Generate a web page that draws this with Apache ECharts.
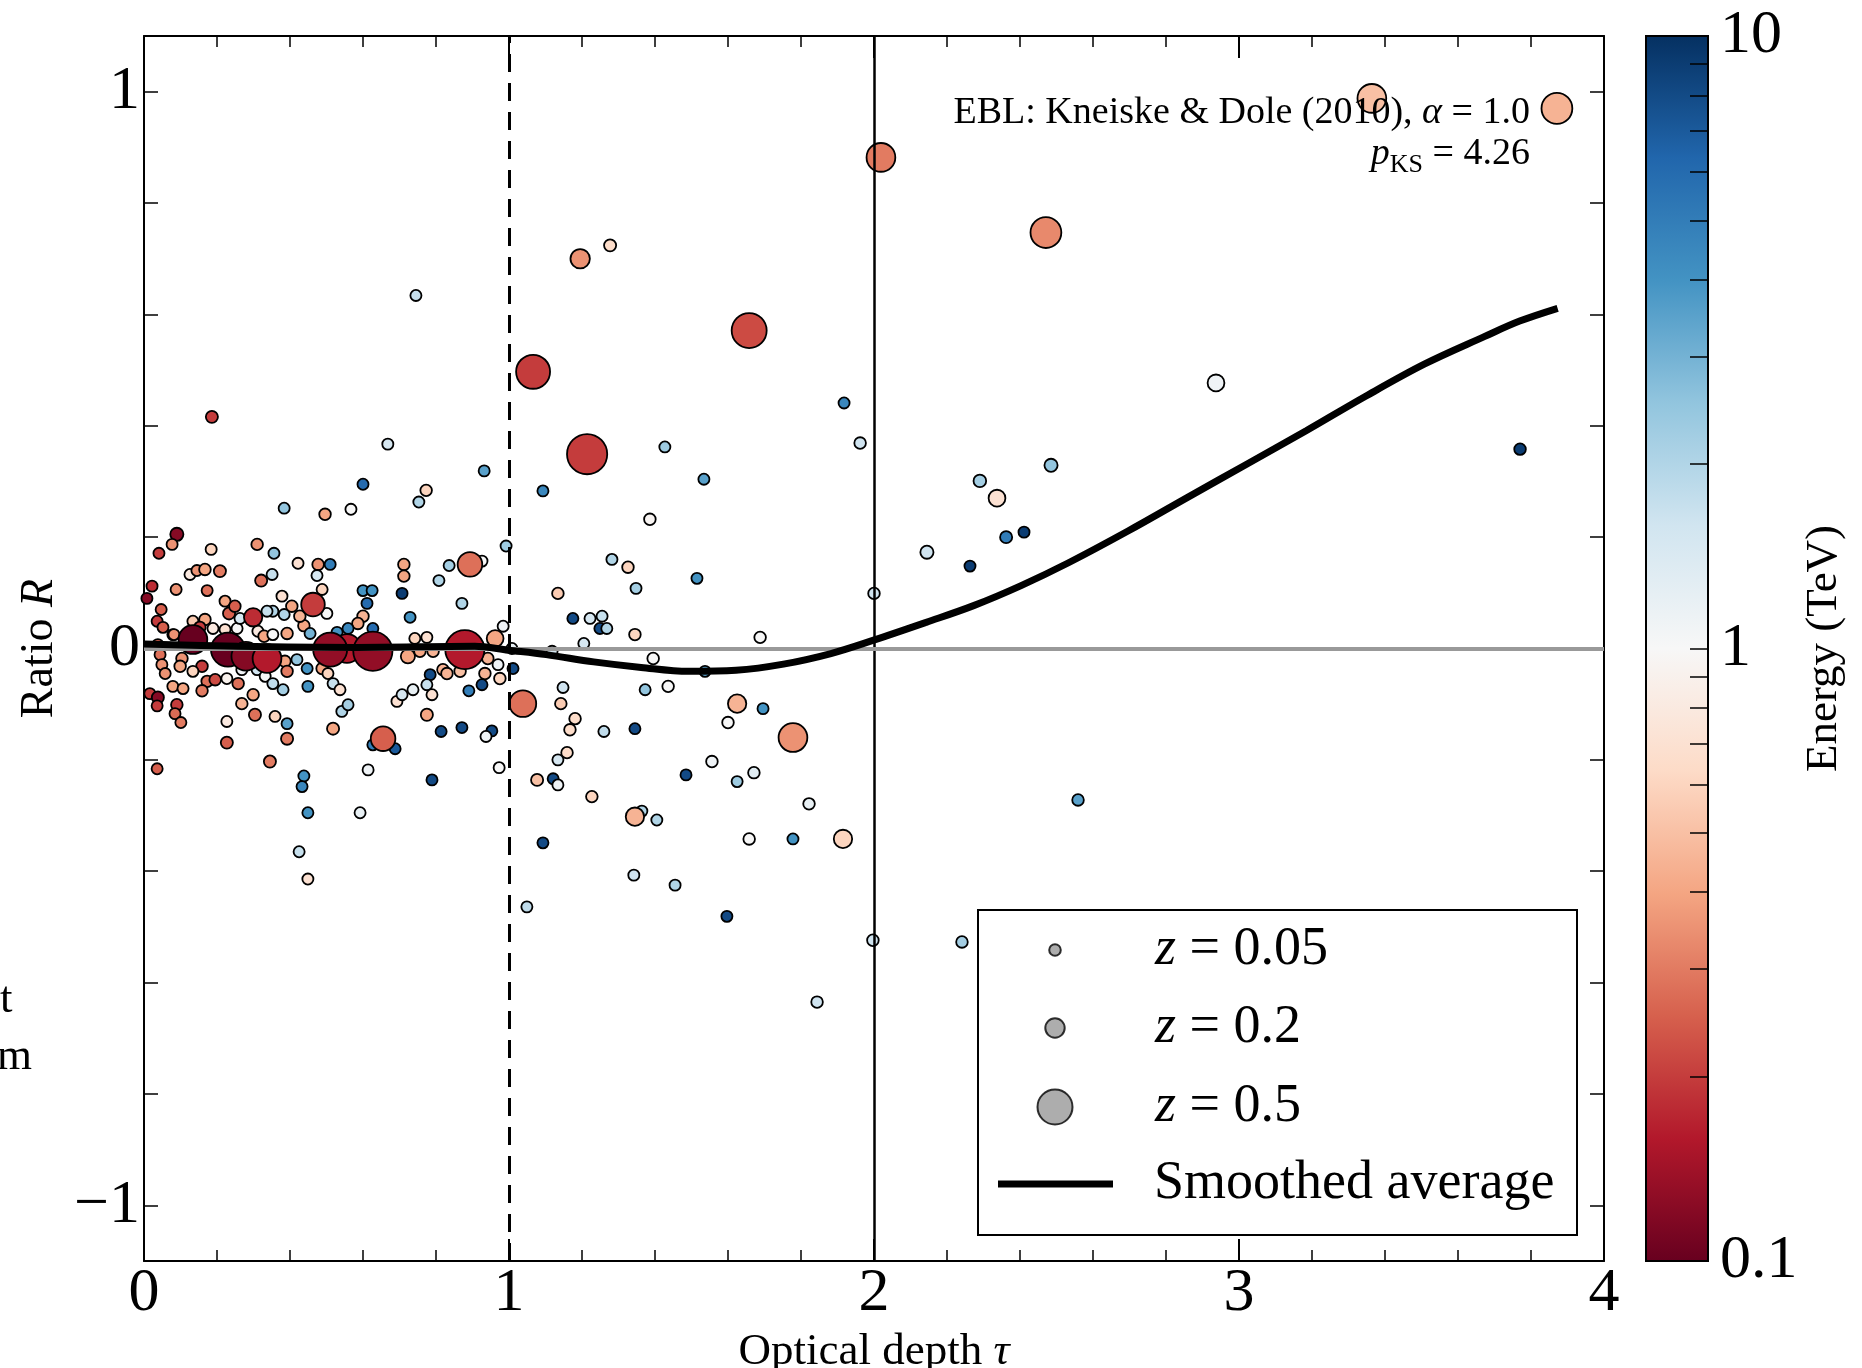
<!DOCTYPE html>
<html>
<head>
<meta charset="utf-8">
<script src="https://cdn.jsdelivr.net/npm/echarts@6/dist/echarts.min.js"></script>
<style>
  html, body { margin: 0; padding: 0; background: #fff; }
  #chart { width: 1862px; height: 1368px; }
</style>
</head>
<body>
<div id="chart"></div>
<script>
// optical depth tau of each measurement
const tau = [
  0.384, 0.496, 0.567, 0.090, 0.077, 0.041, 0.184, 0.310, 0.356, 0.126,
  0.145, 0.167, 0.208, 0.022, 0.008, 0.088, 0.173, 0.321, 0.351, 0.422,
  0.477, 0.510, 0.474, 0.488, 0.712, 0.712, 0.600, 0.625, 0.611, 0.707,
  0.047, 0.036, 0.052, 0.079, 0.222, 0.233, 0.249, 0.378, 0.405, 0.501,
  0.729, 0.353, 0.337, 0.384, 0.438, 0.427, 0.600, 0.586, 0.134, 0.167,
  0.153, 0.189, 0.222, 0.255, 0.263, 0.312, 0.329, 0.353, 0.392, 0.455,
  0.529, 0.559, 0.627, 0.742, 0.082, 0.038, 0.044, 0.049, 0.058, 0.104,
  0.099, 0.159, 0.134, 0.173, 0.195, 0.227, 0.258, 0.268, 0.310, 0.332,
  0.353, 0.381, 0.386, 0.392, 0.419, 0.447, 0.449, 0.488, 0.504, 0.518,
  0.537, 0.299, 0.268, 0.304, 0.359, 0.392, 0.392, 0.518, 0.542, 0.559,
  0.079, 0.107, 0.159, 0.016, 0.038, 0.036, 0.090, 0.085, 0.101, 0.227,
  0.227, 0.345, 0.036, 0.627, 0.688, 0.693, 0.707, 0.737, 0.723, 0.614,
  0.438, 0.433, 0.449, 0.592, 0.425, 0.449, 0.789, 1.049, 0.186, 0.668,
  0.600, 0.932, 0.773, 0.753, 0.745, 0.992, 0.926, 0.836, 0.808, 0.871,
  0.984, 0.775, 0.962, 0.756, 0.792, 0.942, 0.970, 1.008, 1.011, 0.819,
  0.830, 0.866, 0.784, 0.934, 0.975, 0.926, 0.775, 0.789, 0.890, 1.148,
  1.142, 1.181, 1.167, 1.118, 1.134, 1.175, 1.222, 1.255, 1.249, 1.268,
  1.205, 1.282, 1.326, 1.348, 1.345, 1.395, 1.373, 1.436, 1.260, 1.345,
  0.775, 0.814, 0.871, 0.953, 0.937, 0.973, 1.077, 1.121, 1.134, 1.134,
  1.159, 1.227, 1.386, 1.427, 1.534, 1.093, 1.515, 1.537, 1.688, 1.625,
  1.696, 1.600, 1.556, 1.485, 1.671, 1.625, 1.364, 1.345, 1.405, 1.822,
  1.093, 1.658, 1.778, 1.915, 1.342, 1.455, 1.962, 2.000, 1.918, 1.597,
  1.997, 2.241, 1.844, 2.559, 1.277, 2.937, 3.770, 2.485, 2.290, 2.337,
  2.362, 2.411, 2.145, 2.263, 0.299, 0.463, 0.655, 0.893, 1.038, 1.778,
  1.195, 1.066, 1.214, 1.658, 2.019, 2.471, 3.364, 3.871, 0.134, 0.230,
  0.279, 0.337, 0.556, 0.510, 0.627, 0.879
];
// ratio R
const ratio = [
  0.252, 0.241, 0.250, 0.205, 0.187, 0.171, 0.178, 0.187, 0.171, 0.133,
  0.140, 0.142, 0.139, 0.112, 0.090, 0.106, 0.104, 0.122, 0.133, 0.153,
  0.151, 0.151, 0.131, 0.106, 0.151, 0.130, 0.104, 0.104, 0.081, 0.099,
  0.070, 0.049, 0.038, 0.025, 0.085, 0.063, 0.076, 0.094, 0.076, 0.063,
  0.056, 0.067, 0.067, 0.061, 0.041, 0.058, 0.058, 0.045, 0.049, 0.052,
  0.038, 0.036, 0.034, 0.036, 0.054, 0.031, 0.022, 0.025, 0.027, 0.027,
  0.029, 0.036, 0.036, 0.018, 0.025, 0.007, -0.011, -0.029, -0.045, -0.018,
  -0.032, -0.032, -0.041, -0.059, -0.056, -0.054, -0.063, -0.038, -0.038, -0.050,
  -0.063, -0.074, -0.023, -0.041, -0.020, -0.036, -0.068, -0.036, -0.045, -0.063,
  -0.074, -0.083, -0.099, -0.119, -0.122, -0.135, -0.162, -0.144, -0.113, -0.101,
  -0.068, -0.072, -0.076, -0.081, -0.088, -0.103, -0.101, -0.117, -0.133, -0.131,
  -0.169, -0.203, -0.216, -0.173, -0.180, -0.095, -0.083, -0.074, -0.014, -0.218,
  -0.229, -0.248, -0.295, -0.295, -0.365, -0.414, -0.236, -0.464, 0.416, 0.367,
  0.295, 0.319, 0.284, 0.263, 0.634, 0.184, 0.157, 0.149, 0.122, 0.081,
  0.040, 0.020, 0.018, -0.005, -0.005, -0.018, -0.029, 0.000, -0.036, -0.038,
  -0.045, -0.041, -0.047, -0.045, -0.054, -0.065, -0.065, -0.083, -0.076, -0.070,
  -0.099, -0.126, -0.146, -0.005, 0.099, 0.054, 0.054, 0.058, 0.036, 0.036,
  0.009, 0.160, 0.146, 0.108, 0.025, -0.018, -0.074, -0.068, -0.149, -0.144,
  -0.119, -0.149, -0.142, -0.148, -0.158, -0.214, -0.236, -0.234, -0.245, -0.200,
  -0.187, -0.266, 0.232, 0.362, 0.304, 0.283, 0.126, -0.041, 0.020, -0.099,
  -0.108, -0.133, -0.203, -0.227, -0.223, -0.239, -0.292, -0.302, -0.308, -0.279,
  -0.349, -0.342, -0.342, -0.342, -0.407, -0.425, 0.369, 0.099, 0.441, -0.481,
  -0.524, -0.527, -0.635, -0.272, 0.724, 0.477, 0.358, 0.329, 0.301, 0.270,
  0.200, 0.209, 0.173, 0.148, 0.056, 0.079, -0.162, 0.151, -0.099, -0.160,
  0.700, 0.497, 0.349, 0.571, 0.882, 0.747, 0.988, 0.970, 0.016, -0.002,
  -0.014, -0.018, 0.000, -0.002, -0.005, -0.002
];
// photon energy (TeV), drives the colour
const energyTeV = [
  2.5, 0.4, 1.0, 0.12, 0.35, 0.2, 0.6, 0.35, 2.5, 0.8,
  0.35, 0.4, 0.3, 0.18, 0.12, 0.35, 0.28, 0.28, 1.7, 0.7,
  0.35, 5, 1.5, 0.6, 0.4, 0.4, 4, 4, 6, 9,
  0.25, 0.2, 0.25, 0.2, 0.4, 0.25, 0.25, 0.7, 0.4, 1.0,
  4, 2, 1.7, 2, 0.4, 0.45, 0.45, 0.4, 0.55, 0.4,
  0.2, 0.8, 0.7, 1.0, 1.5, 0.8, 0.4, 1.0, 0.4, 3,
  4, 4.5, 6, 0.6, 0.35, 0.25, 0.28, 0.35, 0.35, 0.35,
  0.4, 0.2, 0.6, 0.28, 0.22, 0.9, 0.28, 1.1, 1.6, 1.0,
  1.8, 2.2, 0.4, 0.3, 2.5, 4, 4, 0.4, 0.6, 1.7,
  0.7, 0.4, 0.45, 0.28, 0.6, 3.5, 0.3, 0.4, 2, 2.2,
  0.4, 0.4, 0.3, 0.2, 0.12, 0.2, 0.2, 0.27, 0.3, 0.8,
  0.25, 0.3, 0.25, 5, 7, 0.7, 1.5, 1.2, 0.4, 1.1,
  4, 4.5, 4, 1.2, 1.7, 0.7, 8, 1.8, 0.2, 1.5,
  6, 3.5, 0.6, 2, 1.7, 2.3, 1.0, 2.2, 2, 2,
  1.1, 0.7, 0.4, 0.4, 0.45, 0.45, 1.1, 1.2, 8, 0.45,
  0.45, 0.5, 8, 0.45, 0.6, 8, 1.7, 0.7, 5, 1.6,
  0.55, 0.65, 0.65, 1.5, 0.55, 8, 1.5, 1.7, 8, 2,
  1.5, 2, 0.6, 2.2, 0.6, 1.0, 2.5, 1.0, 1.8, 8,
  0.4, 8, 8, 8, 1.1, 1.0, 0.5, 8, 1.1, 1.5,
  0.65, 0.6, 0.95, 2.3, 3.5, 4.5, 4, 3.5, 1.0, 0.45,
  4, 1.0, 1.1, 8, 1.3, 2.3, 2, 0.45, 2, 1.2,
  8, 1.0, 4, 0.6, 1.6, 2, 1.6, 1.6, 4.5, 8,
  1.6, 2.2, 1.6, 3.5, 0.65, 1.1, 9, 2.5, 2.2, 0.7,
  5, 9, 1.6, 9, 0.18, 0.2, 0.25, 0.28, 0.28, 0.35,
  0.35, 0.2, 0.2, 0.22, 0.3, 0.33, 0.5, 0.45, 0.1, 0.1,
  0.12, 0.16, 0.16, 0.13, 0.13, 0.16
];
// source redshift, drives the marker size
const redshift = [
  0.04, 0.05, 0.04, 0.08, 0.04, 0.04, 0.04, 0.05, 0.04, 0.04,
  0.04, 0.05, 0.06, 0.04, 0.04, 0.04, 0.04, 0.06, 0.04, 0.04,
  0.05, 0.04, 0.04, 0.04, 0.05, 0.05, 0.04, 0.04, 0.04, 0.04,
  0.04, 0.04, 0.04, 0.04, 0.04, 0.06, 0.05, 0.04, 0.05, 0.04,
  0.04, 0.04, 0.04, 0.04, 0.05, 0.05, 0.05, 0.05, 0.04, 0.05,
  0.05, 0.04, 0.04, 0.04, 0.04, 0.04, 0.05, 0.04, 0.05, 0.04,
  0.04, 0.04, 0.04, 0.04, 0.04, 0.04, 0.04, 0.04, 0.04, 0.05,
  0.05, 0.05, 0.04, 0.05, 0.05, 0.04, 0.05, 0.04, 0.04, 0.04,
  0.04, 0.04, 0.05, 0.05, 0.04, 0.04, 0.04, 0.05, 0.04, 0.04,
  0.04, 0.05, 0.05, 0.06, 0.04, 0.04, 0.06, 0.06, 0.04, 0.04,
  0.04, 0.04, 0.05, 0.04, 0.06, 0.04, 0.05, 0.04, 0.04, 0.04,
  0.06, 0.06, 0.04, 0.04, 0.04, 0.04, 0.04, 0.04, 0.10, 0.04,
  0.04, 0.04, 0.04, 0.04, 0.04, 0.04, 0.04, 0.04, 0.06, 0.04,
  0.04, 0.04, 0.05, 0.04, 0.04, 0.04, 0.04, 0.04, 0.04, 0.04,
  0.04, 0.04, 0.15, 0.05, 0.05, 0.05, 0.04, 0.04, 0.04, 0.05,
  0.05, 0.05, 0.04, 0.05, 0.05, 0.04, 0.04, 0.04, 0.04, 0.04,
  0.05, 0.05, 0.05, 0.04, 0.05, 0.04, 0.04, 0.04, 0.04, 0.04,
  0.04, 0.04, 0.05, 0.04, 0.05, 0.05, 0.04, 0.05, 0.04, 0.04,
  0.06, 0.04, 0.04, 0.04, 0.04, 0.04, 0.06, 0.04, 0.04, 0.04,
  0.05, 0.05, 0.05, 0.04, 0.04, 0.04, 0.04, 0.04, 0.05, 0.18,
  0.04, 0.05, 0.05, 0.04, 0.05, 0.04, 0.04, 0.18, 0.04, 0.05,
  0.04, 0.05, 0.04, 0.18, 0.04, 0.04, 0.05, 0.05, 0.04, 0.04,
  0.05, 0.05, 0.05, 0.05, 0.06, 0.15, 0.05, 0.08, 0.07, 0.15,
  0.06, 0.04, 0.08, 0.04, 0.18, 0.28, 0.30, 0.30, 0.34, 0.38,
  0.20, 0.48, 0.60, 0.50, 0.38, 0.42, 0.38, 0.42, 0.38, 0.48,
  0.38, 0.38, 0.38, 0.48, 0.58, 0.58
];

// smoothed average curve
const curveTau = [0, 0.257, 0.582, 0.906, 0.998, 1.102, 1.232, 1.362, 1.492, 1.622, 1.752, 1.882, 1.999,
  2.143, 2.273, 2.403, 2.533, 2.696, 2.858, 3.021, 3.184, 3.347, 3.509, 3.672, 3.769, 3.873];
const curveRatio = [0.008, 0.004, 0.002, 0.004, -0.003, -0.011, -0.024, -0.034, -0.041, -0.039, -0.028, -0.009, 0.015,
  0.047, 0.077, 0.113, 0.154, 0.211, 0.271, 0.331, 0.391, 0.453, 0.511, 0.560, 0.588, 0.611];

// ticks and labels
const yTickValues = [-1, -0.8, -0.6, -0.4, -0.2, 0, 0.2, 0.4, 0.6, 0.8, 1];
const yLabelValues = [-1, 0, 1];
const cbLabelEnergies = [0.1, 1, 10];
const cbTickEnergies = [0.2, 0.3, 0.4, 0.5, 0.6, 0.7, 0.8, 0.9, 1, 2, 3, 4, 5, 6, 7, 8, 9];
const legendRedshifts = [0.05, 0.2, 0.5];

const SERIF = "'Liberation Serif', 'DejaVu Serif', serif";
const RDBU = ['#67001f', '#b2182b', '#d6604d', '#f4a582', '#fddbc7', '#f7f7f7',
  '#d1e5f0', '#92c5de', '#4393c3', '#2166ac', '#053061'];

const sizeFor = (z) => 9 + 52 * z;
const minus = (v) => (v < 0 ? '\u2212' + Math.abs(v) : String(v));

const points = tau.map((t, i) => [t, ratio[i], redshift[i], energyTeV[i], Math.log10(energyTeV[i])]);
const curve = curveTau.map((t, i) => [t, curveRatio[i]]);

const black = { color: '#000', width: 2 };
const italic = (size) => ({ fontStyle: 'italic', fontSize: size, fontFamily: SERIF, color: '#000' });

const xBase = {
  type: 'value', gridIndex: 0, min: 0, max: 4, interval: 1,
  axisLine: { show: true, onZero: false, lineStyle: black },
  axisTick: { show: true, inside: true, length: 22, lineStyle: black },
  minorTick: { show: true, splitNumber: 5, length: 11, lineStyle: { color: '#000', width: 1.5 } },
  splitLine: { show: false },
};
const yBase = {
  type: 'value', gridIndex: 0, min: -1.1, max: 1.1,
  axisLine: { show: true, onZero: false, lineStyle: black },
  axisTick: { show: true, inside: true, length: 14, customValues: yTickValues, lineStyle: { color: '#000', width: 1.5 } },
  splitLine: { show: false },
};

const legendRowY = [950, 1028, 1107];
const legendText = (pad) => ({
  fontSize: 54, fontFamily: SERIF, color: '#000', lineHeight: 60, padding: [0, 0, 0, pad],
  rich: { i: Object.assign(italic(54), { lineHeight: 60 }) },
});

const option = {
  animation: false,
  backgroundColor: '#fff',
  grid: [
    { left: 144, top: 36, width: 1460, height: 1225, outerBoundsMode: 'none' },
    {
      left: 1646, top: 36, width: 62, height: 1225, show: true, outerBoundsMode: 'none',
      borderColor: '#000', borderWidth: 2,
      backgroundColor: {
        type: 'linear', x: 0, y: 0, x2: 0, y2: 1,
        colorStops: RDBU.slice().reverse().map((c, i, a) => ({ offset: i / (a.length - 1), color: c })),
      },
    },
  ],
  xAxis: [
    Object.assign({}, xBase, {
      position: 'bottom',
      axisLabel: { fontSize: 62, fontFamily: SERIF, color: '#000', margin: 2 },
      name: 'Optical depth {i|\u03c4}', nameLocation: 'middle', nameGap: 51,
      nameTextStyle: { fontSize: 45, fontFamily: SERIF, color: '#000', rich: { i: italic(45) } },
    }),
    Object.assign({}, xBase, { position: 'top', axisLabel: { show: false } }),
    { type: 'value', gridIndex: 1, min: 0, max: 1, show: false },
  ],
  yAxis: [
    Object.assign({}, yBase, {
      position: 'left',
      axisLabel: { customValues: yLabelValues, formatter: minus, fontSize: 62, fontFamily: SERIF, color: '#000', margin: 4 },
      name: 'Ratio {i|R}', nameLocation: 'middle', nameGap: 79,
      nameTextStyle: { fontSize: 46, fontFamily: SERIF, color: '#000', rich: { i: italic(46) } },
    }),
    Object.assign({}, yBase, { position: 'right', axisLabel: { show: false } }),
    {
      type: 'value', gridIndex: 1, min: -1, max: 1, position: 'right',
      axisLine: { show: true, onZero: false, lineStyle: black },
      axisTick: { show: true, inside: true, length: 18, customValues: cbTickEnergies.map(Math.log10), lineStyle: { color: '#000', width: 1.5 } },
      axisLabel: {
        customValues: cbLabelEnergies.map(Math.log10),
        formatter: (v) => String(+Math.pow(10, v).toPrecision(2)),
        fontSize: 62, fontFamily: SERIF, color: '#000', margin: 12,
      },
      splitLine: { show: false },
      name: 'Energy (TeV)', nameLocation: 'middle', nameRotate: 90, nameGap: 80,
      nameTextStyle: { fontSize: 45, fontFamily: SERIF, color: '#000' },
    },
  ],
  visualMap: {
    type: 'continuous', show: false, seriesIndex: 1, dimension: 4,
    min: -1, max: 1, inRange: { color: RDBU },
  },
  legend: legendRedshifts.map((z, k) => {
    const d = sizeFor(z);
    return {
      data: [String(z)], left: 1054 - d / 2, top: legendRowY[k] - 30, padding: 0,
      itemWidth: d, itemHeight: d, icon: 'circle', selectedMode: false,
      formatter: (n) => '{i|z} = ' + n,
      textStyle: legendText(95 - d / 2),
    };
  }).concat([{
    data: ['Smoothed average'], left: 998, top: 1184 - 30, padding: 0,
    itemWidth: 115, itemHeight: 7, icon: 'rect', selectedMode: false,
    itemStyle: { color: '#000', borderWidth: 0 },
    textStyle: legendText(36),
  }]),
  graphic: [
    {
      type: 'rect', z: 2, silent: true,
      shape: { x: 978, y: 910, width: 599, height: 325 },
      style: { fill: '#fff', stroke: '#000', lineWidth: 2 },
    },
    {
      type: 'text', z: 100, x: 1530, y: 113, silent: true,
      style: {
        text: 'EBL: Kneiske & Dole (2010), {i|\u03b1} = 1.0',
        align: 'right', verticalAlign: 'middle', fill: '#000',
        fontSize: 38, fontFamily: SERIF, rich: { i: italic(38) },
      },
    },
    {
      type: 'text', z: 100, x: 1530, y: 154, silent: true,
      style: {
        text: '{i|p}{s|KS}{n| = 4.26}',
        align: 'right', verticalAlign: 'middle', fill: '#000',
        fontSize: 38, fontFamily: SERIF,
        rich: {
          i: Object.assign(italic(38), { lineHeight: 40 }),
          s: { fontSize: 26, fontFamily: SERIF, color: '#000', lineHeight: 26, padding: [22, 0, 0, 0] },
          n: { fontSize: 38, fontFamily: SERIF, color: '#000', lineHeight: 40 },
        },
      },
    },
    { type: 'text', x: 0, y: 1000, silent: true, style: { text: 't', fontSize: 45, fontFamily: SERIF, fill: '#000', verticalAlign: 'middle' } },
    { type: 'text', x: -3, y: 1057, silent: true, style: { text: 'm', fontSize: 45, fontFamily: SERIF, fill: '#000', verticalAlign: 'middle' } },
  ],
  series: [
    {
      type: 'line', name: 'refs', data: [], z: 1, silent: true,
      markLine: {
        symbol: 'none', silent: true, animation: false, label: { show: false },
        data: [
          { xAxis: 1, lineStyle: { color: '#000', width: 3, type: [18, 11] } },
          { xAxis: 2, lineStyle: { color: '#000', width: 2.5, type: 'solid' } },
          { yAxis: 0, lineStyle: { color: '#999', width: 4, type: 'solid' } },
        ],
      },
    },
    {
      type: 'scatter', name: 'blazars', data: points, z: 3,
      symbolSize: (v) => sizeFor(v[2]),
      itemStyle: { borderColor: '#000', borderWidth: 1.8, opacity: 1 },
    },
    {
      type: 'line', name: 'Smoothed average', data: curve, z: 5,
      symbol: 'none', smooth: 0.35,
      lineStyle: { color: '#000', width: 7 }, itemStyle: { color: '#000' },
    },
  ].concat(legendRedshifts.map((z) => ({
    type: 'scatter', name: String(z), data: [],
    itemStyle: { color: '#999', borderColor: '#000', borderWidth: 2 },
  }))),
};

const chart = echarts.init(document.getElementById('chart'));
chart.setOption(option);
</script>
</body>
</html>
